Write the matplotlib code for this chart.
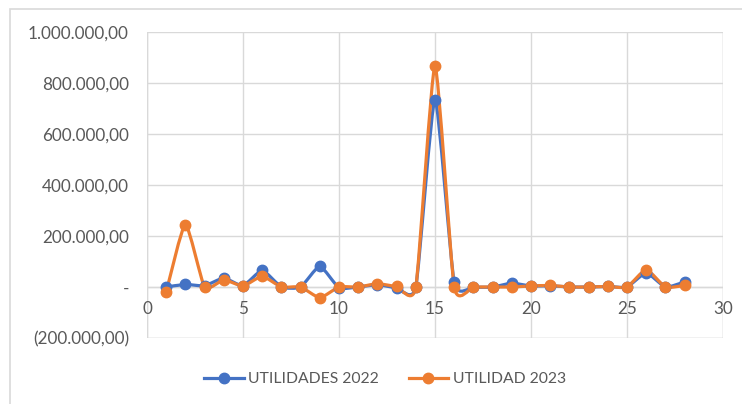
import numpy as np
import matplotlib.pyplot as plt
from matplotlib.path import Path
from matplotlib.patches import PathPatch, Rectangle
from matplotlib.ticker import FuncFormatter, MultipleLocator
from matplotlib.lines import Line2D

# data
x = list(range(1, 29))
utilidades_2022 = [0, 10000, 5000, 35000, 5000, 65000, 0, 0, 81000, -3000,
                   0, 9000, -3000, 0, 735000, 18000, 0, 0, 15000, 4000,
                   5000, 0, 0, 2000, 0, 55000, 0, 20000]
utilidad_2023 = [-20000, 245000, 0, 28000, 4000, 42000, 0, 0, -42000, 0,
                 0, 13000, 2000, 0, 866000, 0, 0, 0, 0, 4000,
                 6000, 0, 0, 2000, 0, 68000, 0, 6000]
labels = ["UTILIDADES 2022", "UTILIDAD 2023"]
colors = ["#4472C4", "#ED7D31"]

TEXT = "#595959"
GRID = "#D9D9D9"
FONT = "Lato"
FS = 12.3


def smooth_path(xs, ys, t=0.09):
    # Excel-style smoothed line: cubic bezier segments through the points
    xs = np.asarray(xs, float)
    ys = np.asarray(ys, float)
    verts = [(xs[0], ys[0])]
    codes = [Path.MOVETO]
    n = len(xs)
    for i in range(n - 1):
        i0 = max(i - 1, 0)
        i3 = min(i + 2, n - 1)
        c1 = (xs[i] + (xs[i + 1] - xs[i0]) * t, ys[i] + (ys[i + 1] - ys[i0]) * t)
        c2 = (xs[i + 1] - (xs[i3] - xs[i]) * t, ys[i + 1] - (ys[i3] - ys[i]) * t)
        verts += [c1, c2, (xs[i + 1], ys[i + 1])]
        codes += [Path.CURVE4] * 3
    return Path(verts, codes)


def fmt(v, pos):
    if abs(v) < 1:
        return "-"
    s = f"{abs(v):,.2f}".replace(",", "X").replace(".", ",").replace("X", ".")
    return f"({s})" if v < 0 else s


fig = plt.figure(figsize=(7.42, 4.04), dpi=100)
ax = fig.add_axes([147 / 742, 1 - 338 / 404, (723 - 147) / 742, (338 - 32) / 404])

for ys, c, lab in zip([utilidades_2022, utilidad_2023], colors, labels):
    ax.add_patch(PathPatch(smooth_path(x, ys), facecolor="none", edgecolor=c,
                           lw=2.3, zorder=3, capstyle="round", joinstyle="round"))
    ax.plot(x, ys, "o", color=c, ms=7.5, zorder=4)

ax.set_xlim(0, 30)
ax.set_ylim(-200000, 1000000)
ax.xaxis.set_major_locator(MultipleLocator(5))
ax.yaxis.set_major_locator(MultipleLocator(200000))
ax.yaxis.set_major_formatter(FuncFormatter(fmt))
ax.grid(True, color=GRID, lw=1, zorder=0)

for s in ax.spines.values():
    s.set_visible(False)
# horizontal axis crosses at y=0 like Excel
ax.spines["bottom"].set_position(("data", 0))
ax.axhline(0, color=GRID, lw=1, zorder=1)
ax.axvline(0, color=GRID, lw=1, zorder=1)
ax.axhline(-200000, color=GRID, lw=1, zorder=1)
ax.axvline(30, color=GRID, lw=1, zorder=1)

ax.tick_params(length=0, labelsize=FS, labelcolor=TEXT)
ax.tick_params(axis="y", pad=13)
ax.tick_params(axis="x", pad=10)
for lbl in ax.get_yticklabels() + ax.get_xticklabels():
    lbl.set_fontfamily(FONT)

handles = [Line2D([], [], color=c, lw=2.3, marker="o", ms=7.5) for c in colors]
fig.legend(handles, labels, loc="center", bbox_to_anchor=(0.519, 1 - 379 / 404),
           ncol=2, frameon=False, handlelength=2.5, columnspacing=1.9,
           handletextpad=0.3, prop={"family": FONT, "size": 11.3}, labelcolor=TEXT)

fig.add_artist(Rectangle((10 / 742, -0.01), 1, 1 - 8.5 / 404 + 0.01,
                         transform=fig.transFigure, fill=False,
                         edgecolor=GRID, lw=1.2))

fig.savefig("out.png", dpi=100)
